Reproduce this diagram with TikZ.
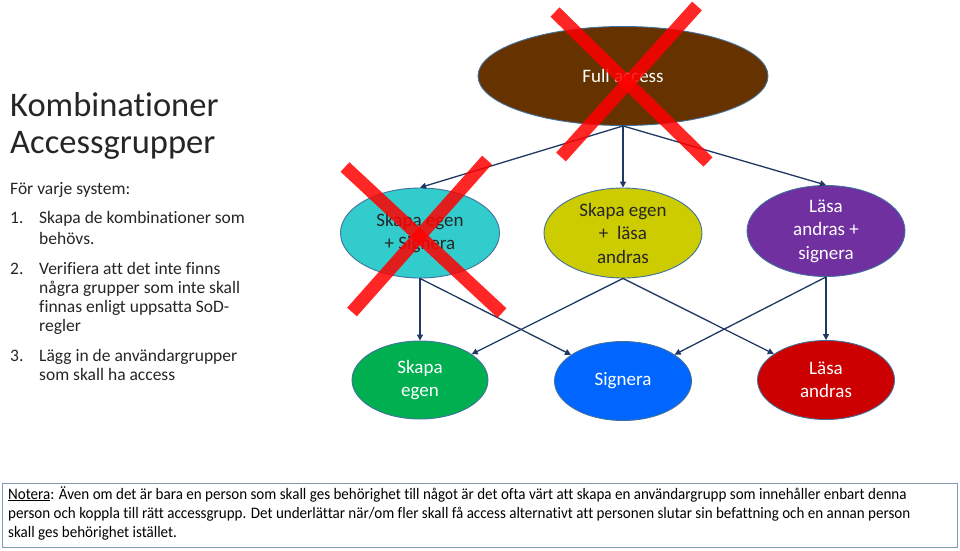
\documentclass[tikz,border=0pt]{standalone}
\usepackage{fontspec}
\setmainfont{Carlito}[Ligatures=NoCommon]
\newfontfamily\notefont{Carlito}[Ligatures=NoCommon,FakeStretch=0.94]
\usetikzlibrary{shapes.geometric,arrows.meta}
\definecolor{fabrown}{HTML}{663300}
\definecolor{cyanc}{HTML}{33CCCC}
\definecolor{yellowc}{HTML}{CCCC00}
\definecolor{purplec}{HTML}{7030A0}
\definecolor{greenc}{HTML}{00B050}
\definecolor{bluec}{HTML}{0066FF}
\definecolor{redc}{HTML}{CC0000}
\definecolor{outl}{HTML}{41719C}
\definecolor{arrc}{HTML}{1F3864}
\definecolor{xred}{HTML}{FF0000}
\definecolor{notebd}{HTML}{8497B0}
\definecolor{txt}{HTML}{262626}
\begin{document}
\begin{tikzpicture}[x=1pt,y=-1pt,
  ell/.style={ellipse, draw=outl, line width=0.9pt, inner sep=0pt},
  wtext/.style={text=white, align=center, font=\fontsize{19}{23.5}\selectfont},
  dtext/.style={text=txt, align=center, font=\fontsize{19}{23.5}\selectfont},
  conn/.style={draw=arrc, line width=1.3pt, -{Triangle[length=6pt,width=6pt]}},
  xmark/.style={draw=xred, draw opacity=0.85, line width=13pt},
  ttl/.style={anchor=base west, inner sep=0pt, text=txt, font=\fontsize{34.5}{38}\selectfont},
  body/.style={anchor=base west, inner sep=0pt, text=txt, font=\fontsize{17.5}{21}\selectfont},
  note/.style={anchor=base west, inner sep=0pt, text=black, font=\notefont\fontsize{16}{19}\selectfont}
]
\useasboundingbox (0,0) rectangle (960,550);
\fill[white] (0,0) rectangle (960,550);

% left text
\node[ttl] (t1) at (10,116) {Kombinationer};
\node[ttl] (t2) at (10,153) {Accessgrupper};
\node[body] (b0) at (10,194) {För varje system:};
\node[body] (n1) at (10,223) {1.};
\node[body] (b1) at (39,223) {Skapa de kombinationer som};
\node[body] (b1b) at (39,244) {behövs.};
\node[body] (n2) at (10,274) {2.};
\node[body] (b2) at (39,274) {Verifiera att det inte finns};
\node[body] (b2b) at (39,293) {några grupper som inte skall};
\node[body] (b2c) at (39,312) {finnas enligt uppsatta SoD-};
\node[body] (b2d) at (39,331) {regler};
\node[body] (n3) at (10,361) {3.};
\node[body] (b3) at (39,361) {Lägg in de användargrupper};
\node[body] (b3b) at (39,380) {som skall ha access};

% ellipses
\node[ell, fill=fabrown, minimum width=290pt, minimum height=99pt,
  label={[name=fat,wtext]center:Full access}] (fa) at (623,76) {};
\node[ell, fill=cyanc, minimum width=159pt, minimum height=90pt,
  label={[name=cyt,dtext]center:Skapa egen\\+ Signera}] (cy) at (420,233) {};
\node[ell, fill=yellowc, minimum width=158pt, minimum height=90pt,
  label={[name=yet,dtext]center:Skapa egen\\+\ \ läsa\\andras}] (ye) at (623,233) {};
\node[ell, fill=purplec, minimum width=158pt, minimum height=91pt,
  label={[name=put,wtext]center:Läsa\\andras +\\signera}] (pu) at (826,231) {};
\node[ell, fill=greenc, minimum width=136pt, minimum height=78pt,
  label={[name=grt,wtext]center:Skapa\\egen}] (gr) at (420,380) {};
\node[ell, fill=bluec, minimum width=137pt, minimum height=79pt,
  label={[name=blt,wtext]center:Signera}] (bl) at (623,381) {};
\node[ell, fill=redc, minimum width=137pt, minimum height=79pt,
  label={[name=rdt,wtext]center:Läsa\\andras}] (rd) at (826,380) {};

% connectors
\draw[conn] (fa.south) -- (cy.north);
\draw[conn] (fa.south) -- (ye.north);
\draw[conn] (fa.south) -- (pu.north);
\draw[conn] (cy.south) -- (gr.north);
\draw[conn] (cy.south) -- (bl);
\draw[conn] (ye.south) -- (gr);
\draw[conn] (ye.south) -- (rd);
\draw[conn] (pu.south) -- (bl);
\draw[conn] (pu.south) -- (rd.north);

% red crosses
\draw[xmark] (555,12) -- (708,162);
\draw[xmark] (697,6) -- (561,157);
\draw[xmark] (345,167) -- (502,313);
\draw[xmark] (487,160) -- (352,312);

% note box
\node[draw=notebd, line width=1pt, minimum width=955pt, minimum height=64pt,
  anchor=north west, inner sep=0pt] (nb) at (2,483) {};
\node[note] (l1) at (8,499) {\underline{Notera}: Även om det är bara en person som skall ges behörighet till något är det ofta värt att skapa en användargrupp som innehåller enbart denna};
\node[note] (l2) at (8,518) {person och koppla till rätt accessgrupp. Det underlättar när/om fler skall få access alternativt att personen slutar sin befattning och en annan person};
\node[note] (l3) at (8,537) {skall ges behörighet istället.};
\end{tikzpicture}
\end{document}
